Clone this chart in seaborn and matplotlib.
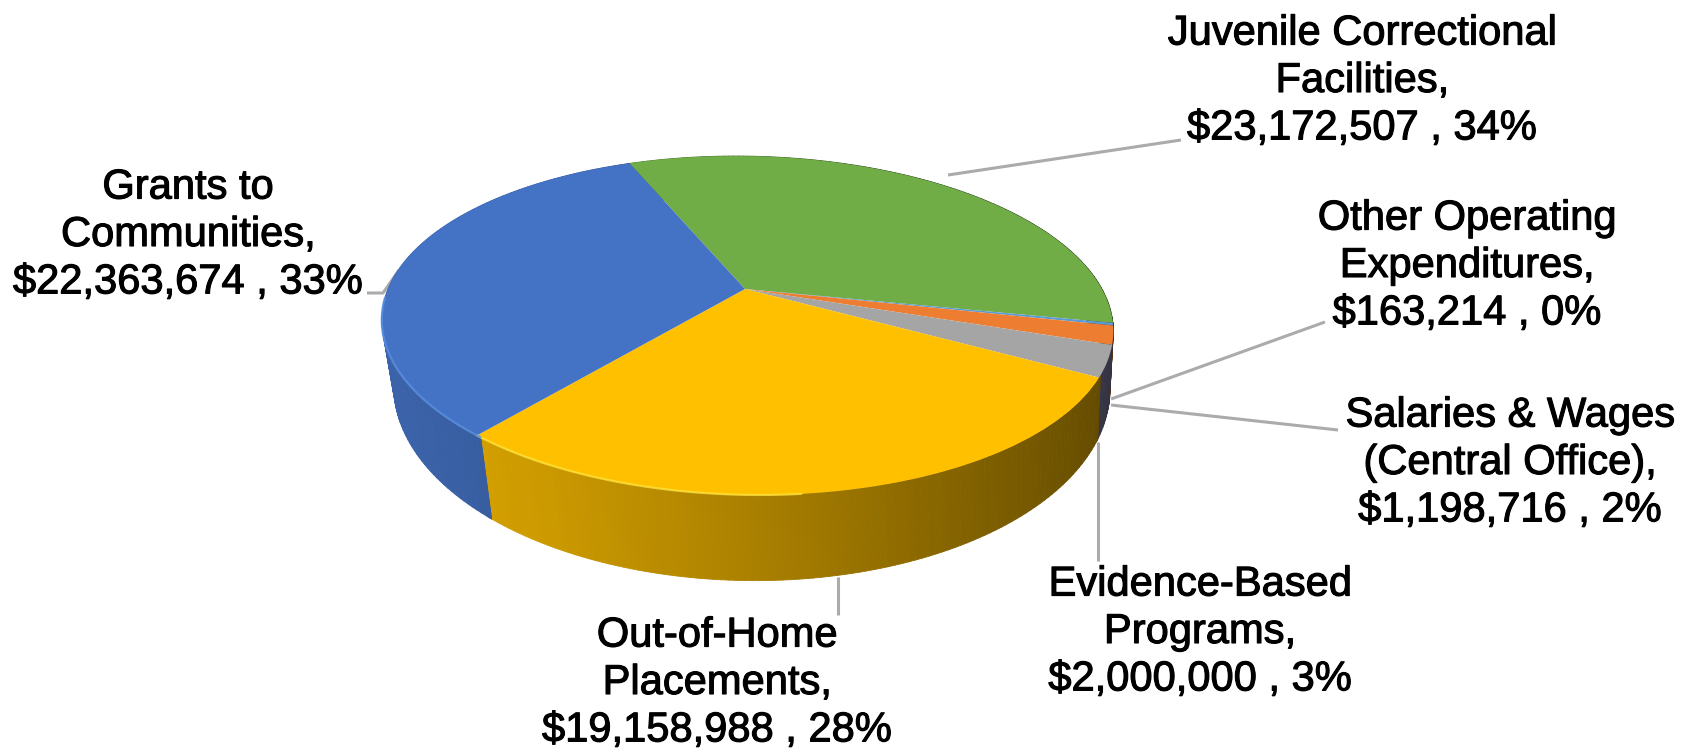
import numpy as np
import matplotlib
matplotlib.use("Agg")
import matplotlib.pyplot as plt
import matplotlib.patheffects as pe
from matplotlib.collections import PolyCollection
from matplotlib.transforms import Transform
import seaborn as sns

# clockwise, starting at the green slice
names = ["Juvenile Correctional\nFacilities,", "Other Operating\nExpenditures,",
         "Salaries & Wages\n(Central Office),", "Evidence-Based\nPrograms,",
         "Out-of-Home\nPlacements,", "Grants to\nCommunities,"]
amounts = [23172507, 163214, 1198716, 2000000, 19158988, 22363674]
percents = [34, 0, 2, 3, 28, 33]
colors = ["#70AD47", "#5B9BD5", "#ED7D31", "#A5A5A5", "#FFC000", "#4472C4"]
wall_colors = ["#70AD47", "#6A6A9A", "#ED7D31", "#8C88B0", "#FFC000", "#4472C4"]
rim_colors = ["#70AD47", "#5B9BD5", "#ED7D31", "#A5A5A5", "#FFE23A", "#5A90E0"]

label_pos = [(1362, 81), (1467, 266), (1510, 463), (1200, 632), (717, 683), (188, 235)]
leaders = [[(948, 175), (1181, 140)],
           [(1111, 399), (1325, 322)],
           [(1111, 405), (1338, 430)],
           [(1098, 442), (1098, 561)],
           [(838, 577), (838, 615)],
           [(399, 270), (383, 293), (367, 293)]]

CX, CY = 745, 289
A, B, K, S = 357, 161.6, 0.2153, 0.07


def top_xy(x, y):
	d = 1 + K * y
	py = CY - B * y / d
	return CX + A * x / d + S * (py - CY), py


def low_xy(x, y):
	px, py = top_xy(x, y)
	depth = 57 + 0.14 * (py - CY) - 0.015 * (px - CX)
	return CX + (px - CX) * 0.98 + S * depth, py + depth


class Tilt(Transform):
	input_dims = 2
	output_dims = 2

	def transform_non_affine(self, v):
		v = np.asarray(v, dtype=float)
		px, py = top_xy(v[:, 0], v[:, 1])
		return np.column_stack([px, py])


def shade(c, f):
	return tuple(np.array(matplotlib.colors.to_rgb(c)) * f)


sns.set_theme(style="white")
plt.rcParams["font.family"] = ["Liberation Sans", "DejaVu Sans"]

f, ax = plt.subplots(figsize=(16.92, 7.52), dpi=100)
f.subplots_adjust(0, 0, 1, 1)

palette = sns.color_palette(colors)
wedges, _ = ax.pie(amounts, colors=palette, startangle=111, counterclock=False,
				   radius=1, wedgeprops={"linewidth": 0})
ax.set_aspect("auto")
ax.set_xlim(0, 1692)
ax.set_ylim(752, 0)
ax.axis("off")

tilt = Tilt()
for w, c, rc in zip(wedges, wall_colors, rim_colors):
	w.set_transform(tilt + ax.transData)
	w.set_zorder(3)

	# side wall of the slice, shaded by where it faces
	t = np.radians(np.arange(w.theta1, w.theta2 + 1.0, 1.0))
	t = np.append(t, np.radians(w.theta2))
	x, y = np.cos(t), np.sin(t)
	ux, uy = top_xy(x, y)
	lx, ly = low_xy(x, y)
	polys, cols = [], []
	for i in range(len(t) - 1):
		polys.append([(ux[i], uy[i]), (ux[i + 1], uy[i + 1]), (lx[i + 1], ly[i + 1]), (lx[i], ly[i])])
		cols.append(shade(c, np.interp(x[i], [-1, -0.5, 0, 0.5, 0.85, 1], [0.88, 0.8, 0.66, 0.5, 0.4, 0.36])))
	ax.add_collection(PolyCollection(polys, facecolors=cols, edgecolors=cols, linewidths=0.6, zorder=2))

	# thin lighter rim on the front left edge
	front = (y < -0.05) & (x < 0.1)
	if front.any():
		ax.plot(ux[front], uy[front], color=rc, lw=1.6, alpha=0.8, zorder=4)

for pts in leaders:
	xs, ys = zip(*pts)
	ax.plot(xs, ys, color="#ABABAB", lw=2.2, zorder=1, solid_capstyle="butt")

for name, amt, pct, (lx_, ly_) in zip(names, amounts, percents, label_pos):
	ax.text(lx_, ly_, f"{name}\n${amt:,} , {pct}%", ha="center", va="center",
			fontsize=30, color="black", linespacing=1.24,
			path_effects=[pe.withStroke(linewidth=0.8, foreground="black")])

plt.savefig("out.png", dpi=100, facecolor="white")
